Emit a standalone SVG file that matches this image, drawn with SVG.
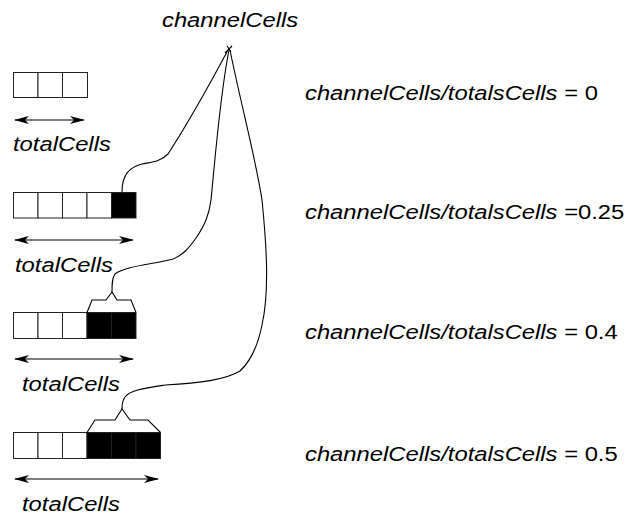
<svg xmlns="http://www.w3.org/2000/svg" width="627" height="518" viewBox="0 0 627 518">
  <style>
    .lbl { font-family: "Liberation Sans", Arial, sans-serif; font-size: 20px; font-style: italic; fill: #000; }
    .up { font-style: normal; }
    .cell { fill: #fff; stroke: #222; stroke-width: 1; }
    .full { fill: #000; stroke: #222; stroke-width: 1; }
    .wire { fill: none; stroke: #000; stroke-width: 1.1; }
    .span { fill: none; stroke: #000; stroke-width: 1.2; marker-start: url(#tipL); marker-end: url(#tipR); }
  </style>
  <defs>
    <marker id="tipR" viewBox="0 0 15 9" refX="14" refY="4.5" markerWidth="15" markerHeight="9" markerUnits="userSpaceOnUse" orient="auto">
      <path d="M0,0.5 L15,4.5 L0,8.5 L4,4.5 z" fill="#000"/>
    </marker>
    <marker id="tipL" viewBox="0 0 15 9" refX="1" refY="4.5" markerWidth="15" markerHeight="9" markerUnits="userSpaceOnUse" orient="auto">
      <path d="M15,0.5 L0,4.5 L15,8.5 L11,4.5 z" fill="#000"/>
    </marker>
  </defs>

  <!-- top label -->
  <g id="channel-label">
    <text class="lbl" transform="translate(162,27) scale(1.19,1)">channelCells</text>
  </g>

  <!-- row 1: no channel cells -->
  <g id="row1">
    <rect class="cell" x="13.5" y="72.5" width="24.5" height="25"/>
    <rect class="cell" x="38" y="72.5" width="24.5" height="25"/>
    <rect class="cell" x="62.5" y="72.5" width="25" height="25"/>
    <path class="span" d="M15,120 L84,120"/>
    <text class="lbl" transform="translate(13,151) scale(1.19,1)">totalCells</text>
    <text class="lbl" transform="translate(305,100) scale(1.19,1)">channelCells/totalsCells<tspan class="up"> = 0</tspan></text>
  </g>

  <!-- row 2: one channel cell -->
  <g id="row2">
    <rect class="cell" x="13.5" y="192.5" width="24.5" height="25.5"/>
    <rect class="cell" x="38" y="192.5" width="24.5" height="25.5"/>
    <rect class="cell" x="62.5" y="192.5" width="24.5" height="25.5"/>
    <rect class="cell" x="87" y="192.5" width="24.5" height="25.5"/>
    <rect class="full" x="111.5" y="192.5" width="24.5" height="25.5"/>
    <path class="span" d="M15,240 L133,240"/>
    <text class="lbl" transform="translate(15,272) scale(1.19,1)">totalCells</text>
    <text class="lbl" transform="translate(305,219) scale(1.19,1)">channelCells/totalsCells<tspan class="up"> =0.25</tspan></text>
  </g>

  <!-- row 3: two channel cells -->
  <g id="row3">
    <rect class="cell" x="13.5" y="312.5" width="24.5" height="26"/>
    <rect class="cell" x="38" y="312.5" width="24.5" height="26"/>
    <rect class="cell" x="62.5" y="312.5" width="24.5" height="26"/>
    <rect class="full" x="87" y="312.5" width="24.5" height="26"/>
    <rect class="full" x="111.5" y="312.5" width="24.5" height="26"/>
    <path class="wire" d="M87,312.5 L92,300 L106,300 L112,292 L117,300 L131,300 L136,312.5"/>
    <path class="span" d="M15,359 L133,359"/>
    <text class="lbl" transform="translate(22,391) scale(1.19,1)">totalCells</text>
    <text class="lbl" transform="translate(305,339) scale(1.19,1)">channelCells/totalsCells<tspan class="up"> = 0.4</tspan></text>
  </g>

  <!-- row 4: three channel cells -->
  <g id="row4">
    <rect class="cell" x="13.5" y="432.5" width="24.5" height="26"/>
    <rect class="cell" x="38" y="432.5" width="24.5" height="26"/>
    <rect class="cell" x="62.5" y="432.5" width="24.5" height="26"/>
    <rect class="full" x="87" y="432.5" width="24.5" height="26"/>
    <rect class="full" x="111.5" y="432.5" width="24.5" height="26"/>
    <rect class="full" x="136" y="432.5" width="24.5" height="26"/>
    <path class="wire" d="M87,432.5 L95,420 L115,420 L122,409 L130,420 L148,420 L160.5,432.5"/>
    <path class="span" d="M15,479 L158,479"/>
    <text class="lbl" transform="translate(22,511) scale(1.19,1)">totalCells</text>
    <text class="lbl" transform="translate(305,461) scale(1.19,1)">channelCells/totalsCells<tspan class="up"> = 0.5</tspan></text>
  </g>

  <!-- connectors from the channelCells label down to the channel cells -->
  <g id="connectors">
    <path class="wire" d="M228,50 C212,80 190,120 168,154 C160,162 152,162 142,164 C130,167 122,174 122,192"/>
    <path class="wire" d="M229,50 C220,95 215,160 211,200 C209,215 205,225 196,238 C189,248 183,255 173,259 C155,264 125,266 115,274 C112,278 112,284 112,292"/>
    <path class="wire" d="M230,50 C240,100 256,160 262,200 C266,240 270,290 262,325 C258,345 252,360 240,371 C225,380 200,383 165,385 C145,388 130,390 125,397 C122,401 122,405 122,409"/>
    <path class="wire" d="M225,53 L232,46 M227,46 L231,52"/>
  </g>
</svg>
